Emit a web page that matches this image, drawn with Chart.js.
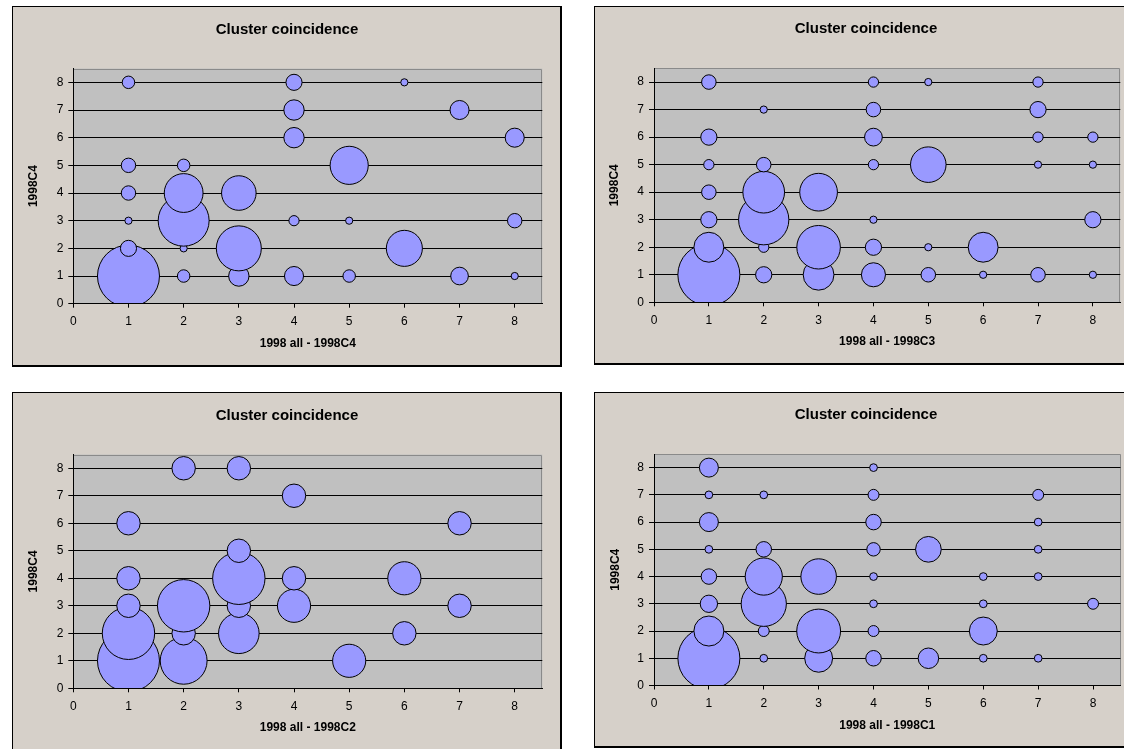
<!DOCTYPE html>
<html>
<head>
<meta charset="utf-8">
<title>Cluster coincidence</title>
<script src="https://cdn.jsdelivr.net/npm/chart.js@4.4.1/dist/chart.umd.min.js"></script>
<style>
  html, body { margin: 0; padding: 0; background: #ffffff; width: 1124px; height: 749px; overflow: hidden; position: relative; }
  .panel { position: absolute; box-sizing: border-box; background: #D6D0C9; border-style: solid; border-color: #000; border-width: 1px 2px 2px 1px; }
  .panel canvas { position: absolute; left: 0; top: 0; }
</style>
</head>
<body>
<div class="panel" style="left:12px; top:6px; width:550px; height:361px;"><canvas id="cC4" width="548" height="358"></canvas></div>
<div class="panel" style="left:594px; top:6px; width:560px; height:359px;"><canvas id="cC3" width="542" height="356"></canvas></div>
<div class="panel" style="left:12px; top:392px; width:550px; height:360px;"><canvas id="cC2" width="548" height="357"></canvas></div>
<div class="panel" style="left:594px; top:392px; width:560px; height:356px;"><canvas id="cC1" width="542" height="353"></canvas></div>
<script>
// Coincidence counts: cluster in the 1998 set (x) against cluster in 1998C4 (y).
// Points are listed row by row (y ascending) so upper bubbles sit on top.

const chartTitle = 'Cluster coincidence';
const yTitle = '1998C4';
const tickValues = [0, 1, 2, 3, 4, 5, 6, 7, 8];

// 1998 all - 1998C4
const c4X = [1, 2, 3, 4, 5, 7, 8,  1, 2, 3, 6,  1, 2, 4, 5, 8,  1, 2, 3,  1, 2, 5,  4, 8,  4, 7,  1, 4, 6];
const c4Y = [1, 1, 1, 1, 1, 1, 1,  2, 2, 2, 2,  3, 3, 3, 3, 3,  4, 4, 4,  5, 5, 5,  6, 6,  7, 7,  8, 8, 8];
const c4N = [74, 3, 8, 7, 3, 6, 1, 5, 1, 39, 25, 1, 50, 2, 1, 4, 4, 29, 23, 4, 3, 28, 8, 7, 8, 7, 3, 5, 1];

// 1998 all - 1998C3
const c3X = [1, 2, 3, 4, 5, 6, 7, 8,  1, 2, 3, 4, 5, 6,  1, 2, 4, 8,  1, 2, 3,  1, 2, 4, 5, 7, 8,  1, 4, 7, 8,  2, 4, 7,  1, 4, 5, 7];
const c3Y = [1, 1, 1, 1, 1, 1, 1, 1,  2, 2, 2, 2, 2, 2,  3, 3, 3, 3,  4, 4, 4,  5, 5, 5, 5, 5, 5,  6, 6, 6, 6,  7, 7, 7,  8, 8, 8, 8];
const c3N = [73, 5, 18, 11, 4, 1, 4, 1,  17, 2, 36, 5, 1, 17,  5, 48, 1, 5,  4, 33, 27,  2, 4, 2, 24, 1, 1,  5, 6, 2, 2,  1, 4, 5,  4, 2, 1, 2];

// 1998 all - 1998C2
const c2X = [1, 2, 5,  1, 2, 3, 6,  1, 2, 3, 4, 7,  1, 3, 4, 6,  3,  1, 7,  4,  2, 3];
const c2Y = [1, 1, 1,  2, 2, 2, 2,  3, 3, 3, 3, 3,  4, 4, 4, 4,  5,  6, 6,  7,  8, 8];
const c2N = [7, 4, 2,  5, 1, 3, 1,  1, 5, 1, 2, 1,  1, 5, 1, 2,  1,  1, 1,  1,  1, 1];

// 1998 all - 1998C1
const c1X = [1, 2, 3, 4, 5, 6, 7,  1, 2, 3, 4, 6,  1, 2, 4, 6, 8,  1, 2, 3, 4, 6, 7,  1, 2, 4, 5, 7,  1, 4, 7,  1, 2, 4, 7,  1, 4];
const c1Y = [1, 1, 1, 1, 1, 1, 1,  2, 2, 2, 2, 2,  3, 3, 3, 3, 3,  4, 4, 4, 4, 4, 4,  5, 5, 5, 5, 5,  6, 6, 6,  7, 7, 7, 7,  8, 8];
const c1N = [64, 1, 13, 4, 7, 1, 1,  15, 2, 32, 2, 13,  5, 34, 1, 1, 2,  4, 23, 21, 1, 1, 1,  1, 4, 3, 11, 1,  6, 4, 1,  1, 1, 2, 2,  6, 1];

const FONT = "'Liberation Sans', Arial, Helvetica, sans-serif";
const MAX_RADIUS = 31;   // largest bubble in each chart, px; area proportional to count

Chart.defaults.font.family = FONT;
Chart.defaults.color = '#000';

// Silver plot area with a thin grey frame on top and right
const plotBackdrop = {
  id: 'plotBackdrop',
  beforeDraw(chart) {
    const { ctx, chartArea: a } = chart;
    ctx.save();
    ctx.fillStyle = '#C0C0C0';
    ctx.fillRect(a.left, a.top, a.right - a.left, a.bottom - a.top);
    ctx.strokeStyle = '#8a8a8a';
    ctx.lineWidth = 1;
    ctx.beginPath();
    ctx.moveTo(a.left, Math.round(a.top) + 0.5);
    ctx.lineTo(Math.round(a.right) - 0.5, Math.round(a.top) + 0.5);
    ctx.lineTo(Math.round(a.right) - 0.5, a.bottom);
    ctx.stroke();
    ctx.restore();
  }
};

function drawPanel(id, xs, ys, ns, xTitle, g) {
  const vmax = Math.max(...ns);
  const points = xs.map((x, i) => ({ x: x, y: ys[i], r: MAX_RADIUS * Math.sqrt(ns[i] / vmax) }));
  const canvas = document.getElementById(id);
  const W = canvas.width, H = canvas.height;
  const titleTop = g.titleY - 9;

  new Chart(canvas, {
    type: 'bubble',
    data: {
      datasets: [{
        data: points,
        backgroundColor: '#9999FF',
        borderColor: '#000',
        borderWidth: 1,
        clip: 0
      }]
    },
    plugins: [plotBackdrop],
    options: {
      responsive: false,
      animation: false,
      events: [],
      devicePixelRatio: 1,
      layout: { padding: 0, autoPadding: false },
      plugins: {
        legend: { display: false },
        tooltip: { enabled: false },
        title: {
          display: true,
          text: chartTitle,
          color: '#000',
          font: { family: FONT, size: 15, weight: 'bold' },
          padding: { top: titleTop, bottom: g.t - titleTop - 18 }
        }
      },
      scales: {
        x: {
          type: 'linear',
          position: 'bottom',
          min: 0, max: 8.5,
          afterBuildTicks(s) { s.ticks = tickValues.map(v => ({ value: v })); },
          ticks: { stepSize: 1, includeBounds: false, padding: 7, font: { size: 12 }, color: '#000', maxRotation: 0 },
          grid: { drawOnChartArea: false, drawTicks: true, tickLength: 4, color: '#000' },
          border: { display: true, color: '#000', width: 1, z: 1 },
          title: {
            display: true, text: xTitle, color: '#000',
            font: { family: FONT, size: 12, weight: 'bold' },
            padding: { top: 0, bottom: H - g.xTitleY - 7.2 }
          },
          afterFit(s) { s.height = H - g.b; }
        },
        y: {
          type: 'linear',
          position: 'left',
          min: 0, max: 8.5,
          afterBuildTicks(s) { s.ticks = tickValues.map(v => ({ value: v })); },
          ticks: { stepSize: 1, includeBounds: false, padding: 5, font: { size: 12 }, color: '#000' },
          grid: { drawOnChartArea: true, drawTicks: true, tickLength: 5, color: '#000', lineWidth: 1 },
          border: { display: true, color: '#000', width: 1 },
          title: {
            display: true, text: yTitle, color: '#000',
            font: { family: FONT, size: 12, weight: 'bold' },
            padding: { top: g.yTitleX - 7.2, bottom: 0 }
          },
          afterFit(s) { s.width = g.l; }
        },
        margin: {
          type: 'linear',
          position: 'right',
          display: true,
          grid: { display: false },
          border: { display: false },
          ticks: { display: false },
          afterFit(s) { s.width = W - g.r; }
        }
      }
    }
  });
}

drawPanel('cC4', c4X, c4Y, c4N, '1998 all - 1998C4', { l: 60.3, t: 61.5, r: 529.3, b: 296.7, titleY: 22.5, xTitleY: 336.5, yTitleX: 20.7 });
drawPanel('cC3', c3X, c3Y, c3N, '1998 all - 1998C3', { l: 59, t: 61.3, r: 525.3, b: 295.3, titleY: 22.2, xTitleY: 335, yTitleX: 19.5 });
drawPanel('cC2', c2X, c2Y, c2N, '1998 all - 1998C2', { l: 60.3, t: 61.5, r: 529.3, b: 295.3, titleY: 22.5, xTitleY: 334.8, yTitleX: 20.5 });
drawPanel('cC1', c1X, c1Y, c1N, '1998 all - 1998C1', { l: 59, t: 61, r: 525.5, b: 292.5, titleY: 22.3, xTitleY: 332.5, yTitleX: 20.8 });
</script>
</body>
</html>
